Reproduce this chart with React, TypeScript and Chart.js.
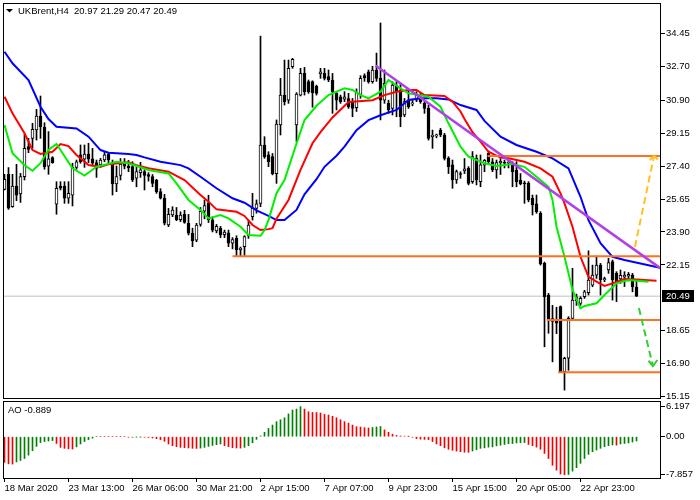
import React, { useEffect, useRef } from "react";
import { Chart, registerables } from "chart.js";

Chart.register(...registerables);

const FONT_FAMILY = '"Liberation Sans", Arial, sans-serif';
const SYMBOL = "UKBrent,H4";

// candle data (bar index 0..158, H4 bars)
const OPEN = [
  26.16, 26.96, 25.24, 26.34, 25.92, 26.84, 28.43, 28.87, 29.32, 30.06,
  29.46, 27.40, 27.85, 25.37, 26.34, 26.34, 25.69, 25.86, 27.33, 27.99,
  27.76, 28.04, 27.79, 27.58, 27.46, 27.72, 28.04, 27.55, 26.45, 26.90,
  27.55, 27.40, 27.37, 26.75, 27.05, 27.10, 26.95, 26.84, 26.66, 26.04,
  25.70, 24.27, 24.80, 24.80, 24.55, 24.83, 24.36, 23.83, 23.47, 24.30,
  25.00, 25.45, 24.55, 23.95, 24.10, 23.75, 23.85, 23.30, 23.56, 22.95,
  23.12, 23.69, 24.71, 25.15, 25.42, 28.52, 27.99, 27.90, 27.00, 29.58,
  31.17, 30.90, 32.68, 29.58, 31.17, 32.32, 31.88, 31.88, 31.65, 32.30,
  32.32, 32.15, 31.97, 31.26, 31.08, 30.95, 30.99, 30.82, 30.50, 31.20,
  32.20, 32.41, 31.88, 32.50, 32.06, 30.90, 30.73, 30.46, 31.70, 31.44,
  30.11, 30.90, 30.70, 30.90, 31.08, 30.73, 30.46, 28.96, 29.00, 29.31,
  29.05, 27.81, 27.46, 26.66, 27.00, 27.15, 27.28, 26.57, 27.81, 26.57,
  27.45, 28.07, 27.63, 27.19, 27.58, 27.60, 27.55, 27.54, 27.19, 26.66,
  26.50, 26.48, 25.69, 25.40, 24.89, 22.23, 20.55, 19.30, 19.20, 19.93,
  16.48, 17.19, 19.31, 20.25, 20.10, 20.46, 20.67, 21.08, 21.61, 22.14,
  21.35, 21.88, 22.32, 21.70, 21.40, 21.50, 21.55, 21.61, 20.97,
];
const HIGH = [
  26.96, 27.32, 26.96, 27.49, 27.01, 29.09, 28.87, 29.67, 30.41, 31.12,
  29.70, 29.23, 27.90, 26.57, 26.57, 26.57, 26.57, 27.55, 27.72, 28.52,
  28.52, 28.61, 28.34, 27.72, 27.81, 28.16, 28.11, 27.72, 27.40, 27.80,
  27.80, 27.70, 27.63, 27.37, 27.60, 27.20, 27.05, 26.95, 26.70, 26.20,
  25.90, 25.15, 25.24, 25.20, 24.97, 25.05, 24.83, 24.10, 24.36, 25.20,
  25.60, 25.85, 24.70, 24.30, 24.20, 24.00, 24.00, 23.60, 23.70, 23.10,
  23.70, 24.53, 25.95, 25.60, 34.30, 28.96, 28.16, 28.07, 29.85, 32.06,
  33.03, 33.03, 33.12, 31.30, 32.59, 32.64, 31.97, 31.93, 31.70, 32.59,
  32.59, 32.50, 32.32, 31.35, 31.17, 31.35, 31.26, 30.99, 31.50, 32.20,
  32.30, 32.50, 32.70, 33.40, 35.00, 32.50, 30.90, 31.88, 31.88, 31.80,
  30.99, 31.44, 30.90, 31.35, 31.26, 30.82, 30.64, 29.31, 29.10, 29.40,
  29.14, 27.90, 27.72, 27.19, 27.10, 27.80, 27.37, 28.17, 27.99, 27.99,
  27.75, 28.20, 27.80, 27.72, 27.80, 27.72, 27.70, 27.63, 27.63, 27.00,
  26.60, 26.57, 25.86, 25.86, 24.98, 22.30, 20.64, 20.00, 19.90, 19.97,
  17.25, 19.40, 21.97, 20.60, 20.46, 20.80, 22.90, 22.14, 22.62, 22.23,
  21.50, 22.50, 22.41, 21.79, 21.88, 21.79, 21.75, 21.70, 21.29,
];
const LOW = [
  26.13, 25.10, 25.21, 25.56, 25.47, 26.66, 28.11, 28.34, 28.78, 28.87,
  27.23, 26.96, 27.55, 24.84, 26.13, 25.42, 25.42, 25.28, 27.23, 27.55,
  27.33, 27.58, 27.40, 26.80, 27.33, 27.63, 27.55, 25.86, 26.04, 26.66,
  27.25, 27.10, 26.57, 26.30, 26.80, 26.13, 26.60, 26.30, 25.95, 25.65,
  24.27, 24.18, 24.71, 24.50, 24.45, 24.36, 23.74, 23.12, 23.38, 24.20,
  24.60, 24.40, 23.90, 23.85, 23.60, 23.60, 23.12, 23.00, 22.60, 22.62,
  22.65, 23.56, 24.53, 24.90, 25.24, 27.81, 27.37, 26.93, 26.48, 29.05,
  30.64, 30.73, 32.59, 28.70, 31.12, 31.17, 31.26, 30.52, 31.17, 32.06,
  31.97, 31.88, 30.20, 30.38, 30.73, 30.82, 30.46, 30.02, 30.30, 31.00,
  31.90, 31.80, 31.80, 31.90, 29.85, 30.73, 30.20, 30.11, 30.02, 29.49,
  30.02, 30.46, 30.60, 30.82, 30.73, 30.20, 28.78, 28.34, 28.90, 28.96,
  27.72, 27.00, 26.22, 26.48, 26.75, 27.00, 26.40, 26.48, 26.40, 26.30,
  27.10, 27.50, 27.10, 26.75, 26.95, 27.30, 27.30, 26.30, 26.30, 26.40,
  25.42, 25.50, 24.80, 24.89, 22.14, 17.80, 18.52, 17.00, 18.50, 16.48,
  15.50, 16.55, 19.23, 20.00, 20.00, 20.37, 20.55, 20.99, 21.43, 20.55,
  21.26, 21.70, 20.28, 20.20, 21.17, 21.00, 21.30, 20.72, 20.47,
];
const CLOSE = [
  26.70, 25.16, 26.34, 25.86, 26.84, 28.34, 28.29, 29.35, 30.06, 29.49,
  27.37, 27.78, 27.58, 26.22, 26.22, 25.69, 25.95, 27.33, 27.63, 27.63,
  28.04, 27.76, 27.55, 27.28, 27.72, 27.99, 27.72, 26.45, 26.84, 27.50,
  27.40, 27.30, 26.66, 27.10, 27.20, 26.90, 26.85, 26.48, 26.04, 25.70,
  24.36, 24.83, 25.06, 24.55, 24.80, 24.40, 23.83, 23.44, 24.27, 25.00,
  25.30, 24.55, 24.00, 24.20, 23.75, 23.90, 23.30, 23.50, 22.94, 23.05,
  23.65, 24.27, 25.15, 25.40, 28.52, 27.90, 27.63, 27.00, 29.63, 31.17,
  30.82, 32.59, 33.07, 31.22, 32.32, 31.35, 31.35, 31.30, 31.26, 32.40,
  32.06, 31.97, 31.35, 30.90, 30.82, 31.08, 30.55, 30.46, 31.30, 32.06,
  32.10, 31.88, 32.50, 32.06, 30.90, 31.80, 30.38, 31.70, 31.35, 30.02,
  30.82, 30.55, 30.75, 31.17, 30.82, 30.46, 28.87, 29.05, 29.02, 29.05,
  27.81, 27.37, 26.66, 27.10, 26.95, 27.25, 26.48, 27.90, 26.66, 27.46,
  27.70, 27.63, 27.19, 27.58, 27.65, 27.55, 27.60, 27.10, 26.57, 26.45,
  26.45, 25.60, 25.33, 24.98, 22.20, 20.46, 19.22, 19.15, 19.05, 16.48,
  17.19, 19.31, 20.28, 20.45, 20.37, 20.72, 21.34, 21.61, 22.14, 21.35,
  21.43, 22.27, 21.35, 21.26, 21.60, 21.60, 21.65, 20.99, 20.49,
];

// Awesome Oscillator values, one per bar
const AO = [
  -5.3, -5.6, -5.65, -5.2, -4.9, -4.5, -3.8, -2.9, -2.0, -1.2,
  -1.0, -0.9, -0.8, -1.4, -2.2, -2.4, -2.5, -2.55, -2.1, -1.5,
  -1.0, -0.6, -0.3, 0, 0, 0, 0, 0, 0, 0,
  0, -0.1, -0.08, -0.06, -0.05, -0.1, -0.15, -0.25, -0.4, -0.6,
  -0.95, -1.5, -1.85, -2.05, -2.2, -2.27, -2.33, -2.4, -2.42, -2.35,
  -2.2, -2.0, -1.8, -1.65, -1.5, -1.85, -2.05, -2.27, -2.33, -2.35,
  -2.2, -1.85, -1.25, -0.55, 0.15, 0.9, 1.7, 2.4, 3.1, 3.5,
  3.9, 4.7, 5.5, 5.7, 6.197, 5.7, 5.15, 5.0, 4.98, 4.88,
  4.6, 4.47, 4.2, 3.9, 3.5, 3.1, 2.8, 2.4, 2.06, 2.0,
  1.86, 1.8, 1.9, 2.0, 2.1, 1.4, 0.9, 0.5, 0.25, 0.15,
  0.1, 0.05, -0.1, -0.4, -0.5, -0.55, -0.6, -1.0, -1.5, -1.85,
  -2.3, -2.6, -2.8, -2.95, -3.1, -3.2, -3.22, -2.95, -2.7, -2.4,
  -2.3, -2.15, -2.1, -1.9, -1.75, -1.6, -1.45, -1.4, -1.3, -1.25,
  -1.2, -1.6, -1.85, -2.15, -2.6, -3.45, -4.5, -5.9, -6.9, -7.7,
  -7.857, -7.8, -7.1, -6.4, -5.5, -4.5, -3.65, -3.1, -2.75, -2.4,
  -2.05, -1.85, -1.7, -1.75, -1.5, -1.4, -1.3, -1.1, -0.889,
];

// Alligator lines: [bar index, price]
const JAW = [
  [0, 33.47], [2, 32.86], [6, 31.97], [9, 30.55], [11, 29.9], [13, 29.49], [18, 29.4], [21, 28.96],
  [24, 28.25], [26, 28.11], [31, 28.04], [33, 27.99], [35, 27.86], [39, 27.63], [44, 27.45], [46, 27.28],
  [49, 26.83], [53, 26.22], [57, 25.69], [60, 25.45], [63, 25.05], [66, 24.75], [68, 24.53], [70, 24.53],
  [73, 25.07], [75, 25.9], [78, 26.7], [80, 27.36], [83, 27.95], [85, 28.43], [88, 29.3], [91, 29.84],
  [94, 30.1], [98, 30.38], [101, 30.91], [104, 31.0], [108, 31.0], [111, 30.94], [114, 30.64], [118, 30.38],
  [120, 29.8], [124, 28.96], [128, 28.52], [133, 28.16], [137, 27.81], [141, 27.28], [144, 25.77], [146, 24.53],
  [149, 23.3], [152, 22.58], [155, 22.41], [159, 22.23], [166, 21.9],
];
const TEETH = [
  [0, 31.08], [2, 30.2], [5, 29.14], [7, 28.25], [9, 28.04], [12, 28.16], [14, 28.57], [16, 28.46],
  [18, 27.99], [21, 27.45], [24, 27.36], [26, 27.49], [31, 27.6], [33, 27.45], [36, 27.28], [41, 27.1],
  [45, 26.66], [49, 25.86], [51, 25.51], [53, 25.1], [56, 25.03], [58, 24.97], [60, 24.75], [62, 24.27],
  [64, 24.0], [66, 24.05], [67, 24.1], [68, 24.6], [71, 25.6], [74, 27.2], [77, 28.61], [79, 29.2],
  [82, 29.98], [86, 30.8], [92, 30.9], [95, 31.17], [98, 31.35], [101, 31.44], [103, 31.44], [105, 31.17],
  [110, 31.12], [112, 30.82], [114, 30.3], [115, 29.9], [117, 29.2], [119, 28.7], [121, 28.16], [124, 27.85],
  [126, 27.81], [130, 27.63], [134, 27.28], [137, 26.83], [139, 25.95], [140, 25.42], [142, 24.18], [144, 22.58],
  [146, 21.52], [148, 21.26], [150, 21.03], [152, 21.17], [155, 21.4], [158, 21.38], [163, 21.31],
];
const LIPS = [
  [0, 29.58], [2, 28.08], [5, 27.45], [7, 27.15], [9, 27.55], [11, 28.25], [13, 28.57], [14, 28.25],
  [17, 27.28], [20, 26.89], [23, 27.36], [28, 27.63], [31, 27.55], [36, 27.19], [41, 27.01], [43, 26.48],
  [46, 25.6], [49, 25.07], [51, 24.62], [54, 24.8], [56, 24.62], [59, 24.18], [61, 23.74], [64, 23.7],
  [65, 24.0], [66, 24.53], [68, 25.96], [70, 26.66], [73, 28.6], [75, 29.84], [78, 30.6], [81, 31.17],
  [85, 31.53], [87, 31.44], [89, 31.17], [91, 31.0], [94, 31.35], [96, 31.97], [99, 31.53], [101, 31.26],
  [106, 31.08], [109, 30.55], [111, 29.67], [114, 28.43], [116, 27.9], [120, 27.55], [123, 27.4], [127, 27.51],
  [130, 27.36], [133, 26.83], [136, 26.3], [137, 25.6], [138, 24.18], [140, 22.58], [142, 20.82], [144, 19.84],
  [145, 19.97], [148, 20.11], [150, 20.55], [153, 21.17], [156, 21.35], [161, 21.26],
];

// drawn objects: [bar index, price]
const LEVELS = [[57, 22.61], [120.75, 27.93], [135.6, 19.22], [138.4, 16.45]];
const LEVEL_END = 165;
const TRENDLINE = [[92.8, 32.73], [165, 21.82]];
const UP_ARROW = [[157.6, 23.1], [162.4, 27.95]];
const UP_ARROW_HEAD = [[161.3, 27.72], [162.4, 27.95], [163.3, 27.75]];
const DOWN_ARROW = [[158.6, 19.86], [162.1, 16.78]];
const DOWN_ARROW_HEAD = [[161.0, 17.06], [162.1, 16.78], [163.2, 17.1]];

// axes
const X_TICK_INDEX = [0, 16, 32, 48, 64, 80, 96, 112, 128, 144];
const X_TICK_LABELS = [
  "18 Mar 2020", "23 Mar 13:00", "26 Mar 06:00", "30 Mar 21:00", "2 Apr 15:00",
  "7 Apr 07:00", "9 Apr 23:00", "15 Apr 15:00", "20 Apr 05:00", "22 Apr 23:00",
];
const Y_TICKS = [34.45, 32.7, 30.9, 29.15, 27.4, 25.65, 23.9, 22.15, 18.65, 16.9, 15.15];
const AO_TICKS = [6.197, 0, -7.857];
const AO_TICK_LABELS = ["6.197", "0.00", "-7.857"];
const X_MIN = -0.375;
const X_MAX = 164.125;
const Y_MIN = 14.975;
const Y_MAX = 36.06;
const AO_MIN = -8.52;
const AO_MAX = 7.57;

const pts = (arr: number[][]) => arr.map(([x, y]) => ({ x, y }));

export default function App() {
  const ref = useRef<HTMLCanvasElement>(null);

  useEffect(() => {
    const n = CLOSE.length - 1;
    const font = { family: FONT_FAMILY, size: 9.5 };

    const overlay = {
      id: "overlay",
      afterDraw(chart: any) {
        const ctx = chart.ctx;
        const a = chart.chartArea;
        const ym = chart.scales.y;
        const ya = chart.scales.yAO;
        ctx.save();
        ctx.strokeStyle = "#000";
        ctx.lineWidth = 1;
        ctx.strokeRect(a.left + 0.5, ym.top + 0.5, a.right - a.left - 1, ym.bottom - ym.top - 2);
        ctx.strokeRect(a.left + 0.5, ya.top + 1.5, a.right - a.left - 1, ya.bottom - ya.top - 1);
        ctx.fillStyle = "#000";
        ctx.beginPath();
        ctx.moveTo(6, 9);
        ctx.lineTo(13, 9);
        ctx.lineTo(9.5, 12.5);
        ctx.closePath();
        ctx.fill();
        ctx.font = `9.5px ${FONT_FAMILY}`;
        ctx.textBaseline = "middle";
        ctx.textAlign = "left";
        ctx.fillText(
          `${SYMBOL}  ${OPEN[n].toFixed(2)} ${HIGH[n].toFixed(2)} ${LOW[n].toFixed(2)} ${CLOSE[n].toFixed(2)}`,
          18, 11
        );
        ctx.fillText(`AO ${AO[n].toFixed(3)}`, 8, ya.top + 10);
        const py = Math.round(ym.getPixelForValue(CLOSE[n]));
        ctx.fillRect(a.right + 1, py - 6, 32, 12);
        ctx.fillStyle = "#fff";
        ctx.fillText(CLOSE[n].toFixed(2), a.right + 5, py + 0.5);
        ctx.restore();
      },
    };

    const aoColors = AO.map((v, i) => (i > 0 && v > AO[i - 1] ? "#008000" : "#F00000"));
    const bodyColors = OPEN.map((o, i) => (CLOSE[i] >= o ? "#FFFFFF" : "#000000"));

    const lineDs = (data: number[][], color: string, width: number, order: number, dash?: number[]) => ({
      type: "line" as const,
      data: pts(data),
      borderColor: color,
      borderWidth: width,
      borderDash: dash || [],
      pointRadius: 0,
      tension: 0,
      fill: false,
      yAxisID: "y",
      order,
    });

    const datasets: any[] = [
      lineDs([[X_MIN, CLOSE[n]], [X_MAX, CLOSE[n]]], "#C0C0C0", 1, 100),
      {
        type: "bar",
        data: LOW.map((l, i) => ({ x: i, y: [l, HIGH[i]] })),
        backgroundColor: "#000",
        borderWidth: 0,
        barThickness: 1,
        grouped: false,
        yAxisID: "y",
        order: 90,
      },
      {
        type: "bar",
        data: OPEN.map((o, i) => ({ x: i, y: [o, CLOSE[i]] })),
        backgroundColor: bodyColors,
        borderColor: "#000",
        borderWidth: 1,
        borderSkipped: false,
        barThickness: 3,
        minBarLength: 1,
        grouped: false,
        yAxisID: "y",
        order: 80,
      },
      {
        type: "bar",
        data: AO.map((v, i) => ({ x: i, y: v })),
        backgroundColor: aoColors,
        borderWidth: 0,
        barThickness: 1,
        grouped: false,
        yAxisID: "yAO",
        order: 70,
      },
      lineDs(JAW, "#0000FF", 2, 52),
      lineDs(TEETH, "#FF0000", 2, 51),
      lineDs(LIPS, "#00F000", 2, 50),
      ...LEVELS.map(([s, p]) => lineDs([[s, p], [LEVEL_END, p]], "#FF7020", 2, 20)),
      lineDs(TRENDLINE, "#B040E8", 2.5, 15),
      lineDs(UP_ARROW, "#FFC020", 2, 10, [7, 4]),
      lineDs(UP_ARROW_HEAD, "#FFC020", 2, 10),
      lineDs(DOWN_ARROW, "#30D030", 2, 10, [7, 4]),
      lineDs(DOWN_ARROW_HEAD, "#30D030", 2, 10),
    ];

    const yFit = (s: any) => {
      s.width = 39;
      s.paddingTop = 0;
      s.paddingBottom = 0;
    };

    const chart = new Chart(ref.current as HTMLCanvasElement, {
      type: "bar",
      data: { datasets },
      options: {
        animation: false,
        responsive: false,
        devicePixelRatio: 1,
        events: [],
        layout: { padding: { left: 3, top: 3, right: 0, bottom: 0 } },
        plugins: {
          legend: { display: false },
          tooltip: { enabled: false },
          title: { display: false },
        },
        scales: {
          x: {
            type: "linear",
            min: X_MIN,
            max: X_MAX,
            offset: false,
            border: { display: false },
            grid: { display: true, offset: false, drawOnChartArea: false, drawTicks: true, tickLength: 4, color: "#000", tickColor: "#000" },
            ticks: {
              autoSkip: false,
              maxRotation: 0,
              minRotation: 0,
              align: "start",
              padding: 1,
              color: "#000",
              font,
              callback: (_v: any, idx: number) => X_TICK_LABELS[idx],
            },
            afterBuildTicks: (s: any) => {
              s.ticks = X_TICK_INDEX.map((v) => ({ value: v }));
            },
            afterFit: (s: any) => {
              s.height = 22;
              s.paddingLeft = 0;
              s.paddingRight = 0;
            },
          },
          y: {
            type: "linear",
            position: "right",
            stack: "panes",
            stackWeight: 397,
            min: Y_MIN,
            max: Y_MAX,
            border: { display: false },
            grid: { display: true, drawOnChartArea: false, drawTicks: true, tickLength: 4, color: "#000", tickColor: "#000" },
            ticks: {
              autoSkip: false,
              padding: 1,
              color: "#000",
              font,
              callback: (v: any) => Number(v).toFixed(2),
            },
            afterBuildTicks: (s: any) => {
              s.ticks = Y_TICKS.map((v) => ({ value: v }));
            },
            afterFit: yFit,
          },
          yAO: {
            type: "linear",
            position: "right",
            stack: "panes",
            stackWeight: 78,
            min: AO_MIN,
            max: AO_MAX,
            border: { display: false },
            grid: { display: true, drawOnChartArea: false, drawTicks: true, tickLength: 4, color: "#000", tickColor: "#000" },
            ticks: {
              autoSkip: false,
              padding: 1,
              color: "#000",
              font,
              callback: (_v: any, idx: number) => AO_TICK_LABELS[idx],
            },
            afterBuildTicks: (s: any) => {
              s.ticks = AO_TICKS.map((v) => ({ value: v }));
            },
            afterFit: yFit,
          },
        },
      } as any,
      plugins: [overlay],
    });
    return () => chart.destroy();
  }, []);

  return (
    <div style={{ position: "fixed", left: 0, top: 0, width: 700, height: 500, background: "#fff" }}>
      <canvas ref={ref} width={700} height={500} style={{ display: "block", width: 700, height: 500 }} />
    </div>
  );
}
